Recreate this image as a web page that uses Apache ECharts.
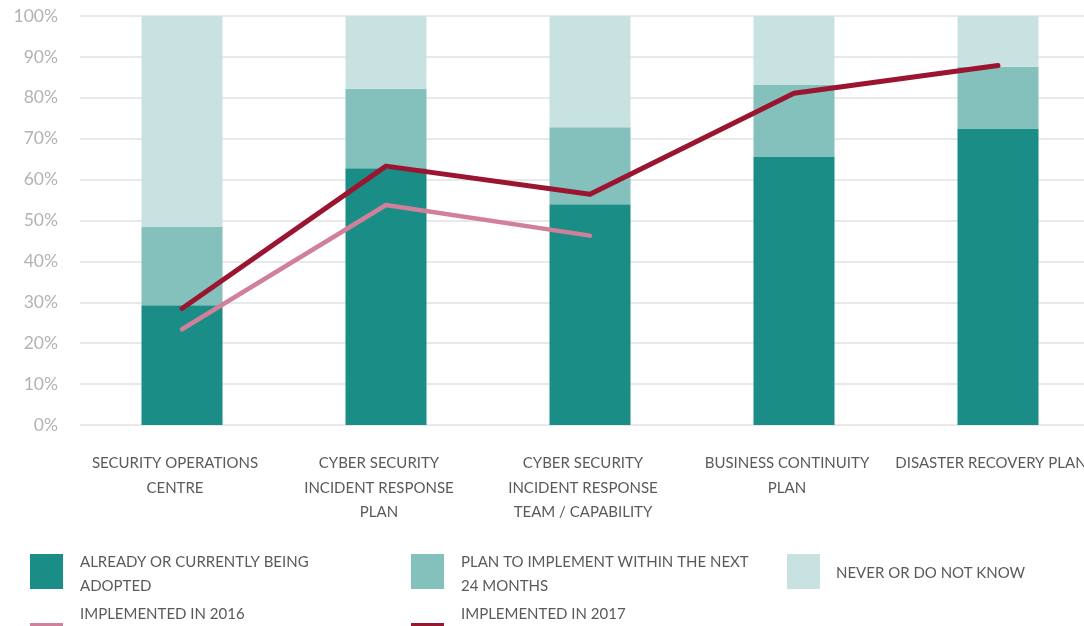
<!DOCTYPE html>
<html>
<head>
<meta charset="utf-8">
<script src="https://cdn.jsdelivr.net/npm/echarts@6/dist/echarts.min.js"></script>
<style>
  html, body { margin: 0; padding: 0; background: #fff; }
  #chart { width: 1084px; height: 626px; }
</style>
</head>
<body>
<div id="chart"></div>
<script>
// Adoption of security capabilities (percent of respondents)
const categories = [
  'SECURITY OPERATIONS\nCENTRE',
  'CYBER SECURITY\nINCIDENT RESPONSE\nPLAN',
  'CYBER SECURITY\nINCIDENT RESPONSE\nTEAM / CAPABILITY',
  'BUSINESS CONTINUITY\nPLAN',
  'DISASTER RECOVERY PLAN'
];
const adopted = [29.3, 62.8, 54.0, 65.5, 72.5];
const planned = [19.1, 19.4, 18.8, 17.6, 15.1];
const never = [51.6, 17.8, 27.2, 16.9, 12.4];
const implemented2016 = [23.4, 53.8, 46.3, null, null];
const implemented2017 = [28.5, 63.3, 56.4, 81.1, 87.9];
const yTicks = ['0%', '10%', '20%', '30%', '40%', '50%', '60%', '70%', '80%', '90%', '100%'];

const names = {
  adopted: 'ALREADY OR CURRENTLY BEING\nADOPTED',
  planned: 'PLAN TO IMPLEMENT WITHIN THE NEXT\n24 MONTHS',
  never: 'NEVER OR DO NOT KNOW',
  y2016: 'IMPLEMENTED IN 2016',
  y2017: 'IMPLEMENTED IN 2017'
};
const colors = {
  adopted: '#1b8d87',
  planned: '#84c1bc',
  never: '#c7e2e1',
  y2016: '#d0809a',
  y2017: '#9b1430'
};

const FONT = 'Lato, "Open Sans", sans-serif';

// Legend drawn as graphic swatches with wrapped labels
const legendItems = [
  { key: 'adopted', x: 30, y: 554, w: 33, h: 35, tx: 80, ty: 574 },
  { key: 'planned', x: 411, y: 554, w: 33, h: 35, tx: 461, ty: 574 },
  { key: 'never', x: 787, y: 554, w: 33, h: 35, tx: 836, ty: 573 },
  { key: 'y2016', x: 30, y: 623, w: 33, h: 12, tx: 80, ty: 614 },
  { key: 'y2017', x: 411, y: 623, w: 33, h: 12, tx: 461, ty: 614 }
];
const graphic = [];
legendItems.forEach(it => {
  graphic.push({
    type: 'rect', left: it.x, top: it.y,
    shape: { width: it.w, height: it.h },
    style: { fill: colors[it.key] }, silent: true
  });
  graphic.push({
    type: 'text', x: it.tx, y: it.ty,
    style: {
      text: names[it.key], fill: '#5a5a5a', font: '15px ' + FONT,
      lineHeight: 24, verticalAlign: 'middle', align: 'left'
    }, silent: true
  });
});

const chart = echarts.init(document.getElementById('chart'));
chart.setOption({
  backgroundColor: '#ffffff',
  animation: false,
  grid: { left: 80, top: 16, width: 1020, height: 409, containLabel: false, outerBoundsMode: 'none' },
  xAxis: {
    type: 'category',
    data: categories,
    axisLine: { show: false },
    axisTick: { show: false },
    axisLabel: {
      interval: 0, margin: 26, color: '#5a5a5a',
      fontFamily: FONT, fontSize: 15, lineHeight: 24.5,
      padding: [0, 14, 0, 0]
    }
  },
  yAxis: {
    type: 'value', min: 0, max: 100, interval: 10,
    axisLine: { show: false },
    axisTick: { show: false },
    splitLine: { lineStyle: { color: '#e2e2e2', width: 1.5 } },
    axisLabel: {
      margin: 22, color: '#b3b3b3', fontFamily: FONT, fontSize: 17.5,
      formatter: v => yTicks[Math.round(v / 10)]
    }
  },
  graphic: graphic,
  series: [
    { name: names.adopted, type: 'bar', stack: 'total', barWidth: 81, data: adopted, itemStyle: { color: colors.adopted } },
    { name: names.planned, type: 'bar', stack: 'total', barWidth: 81, data: planned, itemStyle: { color: colors.planned } },
    { name: names.never, type: 'bar', stack: 'total', barWidth: 81, data: never, itemStyle: { color: colors.never } },
    {
      name: names.y2016, type: 'line', data: implemented2016, symbol: 'none',
      lineStyle: { color: colors.y2016, width: 4.5, cap: 'round', join: 'round' }
    },
    {
      name: names.y2017, type: 'line', data: implemented2017, symbol: 'none',
      lineStyle: { color: colors.y2017, width: 5, cap: 'round', join: 'round' }
    }
  ]
});
</script>
</body>
</html>
